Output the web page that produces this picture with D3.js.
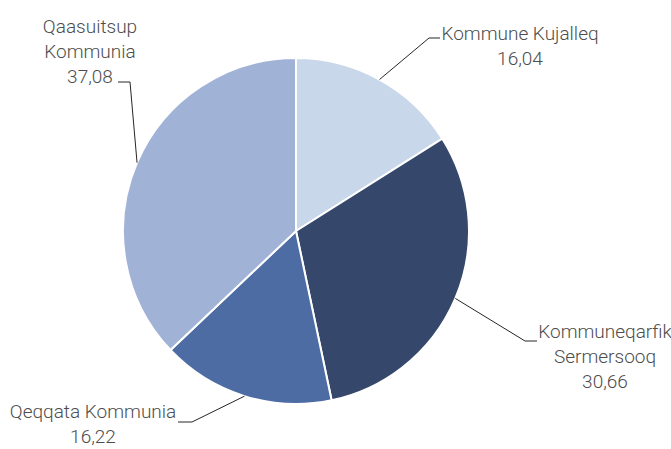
<!DOCTYPE html>
<html>
<head>
<meta charset="utf-8">
<script src="https://cdn.jsdelivr.net/npm/d3@7"></script>
<style>
  body { margin: 0; background: #fff; }
  text { font-family: Roboto, "Liberation Sans", sans-serif; font-size: 19px; font-weight: 300; fill: #4d4d4d; }
</style>
</head>
<body>
<script>
var names = ["Kommune Kujalleq", "Kommuneqarfik Sermersooq", "Qeqqata Kommunia", "Qaasuitsup Kommunia"];
var values = [16.04, 30.66, 16.22, 37.08];
var colors = ["#c9d7ea", "#35486c", "#4e6ca4", "#a0b2d6"];
// label lines as shown in the chart
var labelLines = [
    ["Kommune Kujalleq"],
    ["Kommuneqarfik", "Sermersooq"],
    ["Qeqqata Kommunia"],
    ["Qaasuitsup", "Kommunia"]
];

var svg = d3.select("body").append("svg")
    .attr("width", 671)
    .attr("height", 449);

var cx = 296, cy = 231, radius = 173;

var g = svg.append("g").attr("transform", "translate(" + cx + "," + cy + ")");

var pie = d3.pie().sort(null).value(function (d) { return d; });
var arc = d3.arc().innerRadius(0).outerRadius(radius);
var arcs = pie(values);

g.selectAll("path.slice")
    .data(arcs)
    .enter().append("path")
    .attr("class", "slice")
    .attr("d", arc)
    .attr("fill", function (d, i) { return colors[i]; })
    .attr("stroke", "#fff")
    .attr("stroke-width", 2);

var format = function (x) { return x.toFixed(2).replace(".", ","); };

// text block centre (relative to pie centre), elbow and end of leader line
var layout = [
    { tx: 224, ty: -191, elbow: [133, -193], end: [144, -193] },
    { tx: 309, ty: 107, elbow: [229, 110], end: [241, 110] },
    { tx: -203, ty: 187, elbow: [-104, 191], end: [-118, 191] },
    { tx: -206, ty: -198, elbow: [-166, -149], end: [-178, -149] }
];

arcs.forEach(function (a, i) {
    var ang = (a.startAngle + a.endAngle) / 2;
    var p = [Math.sin(ang) * radius, -Math.cos(ang) * radius];
    var L = layout[i];
    g.append("polyline")
        .attr("points", [p, L.elbow, L.end].map(function (q) { return q.join(","); }).join(" "))
        .attr("fill", "none")
        .attr("stroke", "#262626")
        .attr("stroke-width", 1);

    var lines = labelLines[i].concat([format(values[i])]);
    var t = g.append("text")
        .attr("text-anchor", "middle")
        .attr("x", L.tx)
        .attr("y", L.ty);
    lines.forEach(function (s, j) {
        t.append("tspan")
            .attr("x", L.tx)
            .attr("dy", j === 0 ? 0 : 25)
            .text(s);
    });
});
</script>
</body>
</html>
